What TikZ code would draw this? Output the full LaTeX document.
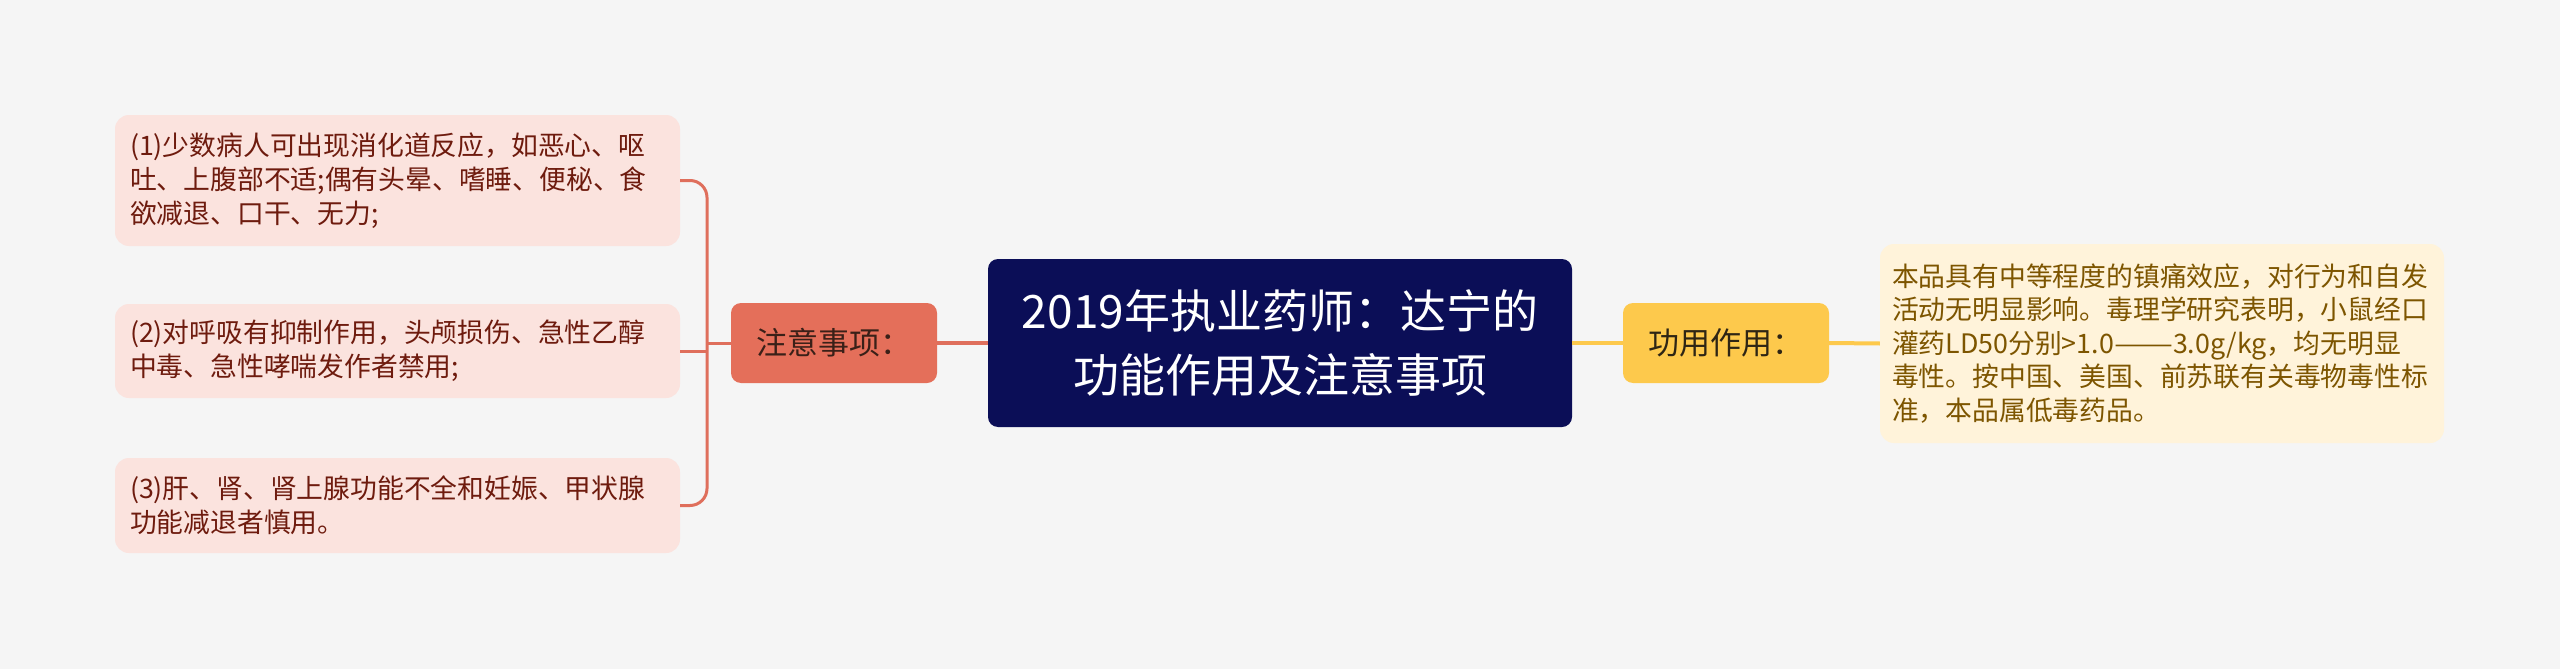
\documentclass[tikz,border=0pt]{standalone}
\usepackage{fontspec}
\setmainfont{Noto Sans CJK SC}
\definecolor{bgc}{HTML}{F5F5F5}
\definecolor{leafpink}{HTML}{FBE3DE}
\definecolor{leaftext}{HTML}{6E1B0E}
\definecolor{coral}{HTML}{E46F5A}
\definecolor{coralline}{HTML}{DF6F5C}
\definecolor{navy}{HTML}{0B0E57}
\definecolor{gold}{HTML}{FDC94C}
\definecolor{cream}{HTML}{FFF3DA}
\definecolor{creamtext}{HTML}{7D5500}
\definecolor{darktext}{HTML}{3A2018}
\definecolor{goldtext}{HTML}{2E2514}
\begin{document}
\begin{tikzpicture}[x=1pt,y=-1pt,
  leaf/.style={fill=leafpink, rounded corners=14pt, text=leaftext,
    font=\fontsize{26.8}{34}\selectfont, text width=535pt, inner xsep=15pt,
    inner ysep=0pt, align=left, anchor=center},
  rightleaf/.style={fill=cream, rounded corners=14pt, text=creamtext,
    font=\fontsize{26.8}{33.5}\selectfont, text width=540pt, inner xsep=12pt,
    inner ysep=0pt, align=left, anchor=center, minimum height=199pt},
  branch/.style={rounded corners=10pt, minimum width=206pt, minimum height=80pt,
    inner sep=0pt, font=\fontsize{31}{36}\selectfont, anchor=center},
  rootbox/.style={fill=navy, rounded corners=10pt, minimum width=584pt,
    minimum height=168pt, inner sep=0pt, text=white, align=center,
    font=\fontsize{46}{64}\selectfont, anchor=center},
  brk/.style={draw=coralline, line width=3pt},
  brkthick/.style={draw=coralline, line width=4pt},
  ylw/.style={draw=gold, line width=4pt}
]
\fill[bgc] (0,0) rectangle (2560,669);
\useasboundingbox (0,0) rectangle (2560,669);

\node[leaf, minimum height=131pt] (b1) at (397.5,180.5)
  {(1)少数病人可出现消化道反应，如恶心、呕\\吐、上腹部不适;偶有头晕、嗜睡、便秘、食\\欲减退、口干、无力;};
\node[leaf, minimum height=94pt] (b2) at (397.5,351)
  {(2)对呼吸有抑制作用，头颅损伤、急性乙醇\\中毒、急性哮喘发作者禁用;};
\node[leaf, minimum height=95pt] (b3) at (397.5,505.5)
  {(3)肝、肾、肾上腺功能不全和妊娠、甲状腺\\功能减退者慎用。};

\node[branch, fill=coral, text=darktext] (zy) at (834,343) {注意事项：};
\node[rootbox] (root) at (1280,343) {2019年执业药师：达宁的\\功能作用及注意事项};
\node[branch, fill=gold, text=goldtext] (gy) at (1726,343) {功用作用：};
\node[rightleaf] (rt) at (2162,343.5)
  {本品具有中等程度的镇痛效应，对行为和自发\\活动无明显影响。毒理学研究表明，小鼠经口\\灌药LD50分别>1.0\resizebox{59pt}{\height}{——}3.0g/kg，均无明显\\毒性。按中国、美国、前苏联有关毒物毒性标\\准，本品属低毒药品。};

\coordinate (bx) at (707,343);
\draw[brk, rounded corners=17pt] (b1.east) -| (bx) |- (b3.east);
\draw[brk] (b2.east) -- (b2.east -| bx);
\draw[brk] (bx) -- (zy.west);
\draw[brkthick] (zy.east) -- (root.west);
\draw[ylw] (root.east) -- (gy.west);
\draw[ylw] (gy.east) -- (rt.west);
\end{tikzpicture}
\end{document}
